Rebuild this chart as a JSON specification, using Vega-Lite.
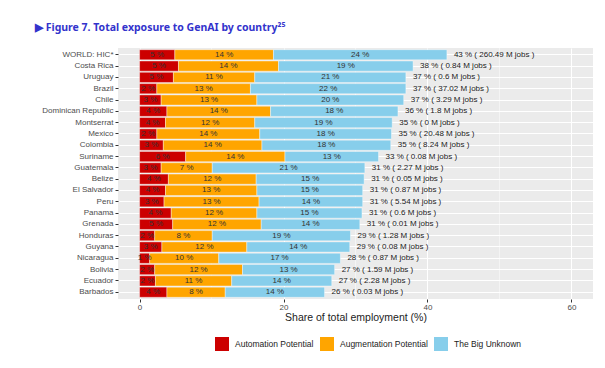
{
  "$schema": "https://vega.github.io/schema/vega-lite/v6.json",
  "width": 475,
  "height": 251,
  "autosize": "none",
  "padding": {"left": 118, "top": 48, "right": 12, "bottom": 69},
  "background": "white",
  "title": {
    "text": "▶  Figure 7. Total exposure to GenAI by country²⁵",
    "anchor": "start",
    "frame": "group",
    "dx": -83,
    "offset": 14,
    "font": "Noto Sans",
    "fontSize": 10.5,
    "fontWeight": "bold",
    "color": "#3333CC"
  },
  "config": {
    "view": {"stroke": null, "fill": "#EBEBEB"},
    "font": "Liberation Sans",
    "axis": {
      "gridColor": "white",
      "domain": false,
      "labelColor": "#4D4D4D",
      "tickColor": "#333333",
      "labelFont": "Liberation Sans",
      "titleFont": "Liberation Sans"
    }
  },
  "data": {
    "values": [
      {"country": "WORLD: HIC*", "Automation Potential": 4.9, "Augmentation Potential": 13.7, "The Big Unknown": 24.1, "jobs": 260.49},
      {"country": "Costa Rica", "Automation Potential": 5.4, "Augmentation Potential": 13.9, "The Big Unknown": 18.7, "jobs": 0.84},
      {"country": "Uruguay", "Automation Potential": 4.7, "Augmentation Potential": 11.3, "The Big Unknown": 21.0, "jobs": 0.6},
      {"country": "Brazil", "Automation Potential": 2.4, "Augmentation Potential": 13.0, "The Big Unknown": 21.6, "jobs": 37.02},
      {"country": "Chile", "Automation Potential": 3.0, "Augmentation Potential": 13.3, "The Big Unknown": 20.4, "jobs": 3.29},
      {"country": "Dominican Republic", "Automation Potential": 3.8, "Augmentation Potential": 14.4, "The Big Unknown": 17.7, "jobs": 1.8},
      {"country": "Montserrat", "Automation Potential": 3.6, "Augmentation Potential": 12.4, "The Big Unknown": 19.1, "jobs": 0},
      {"country": "Mexico", "Automation Potential": 2.4, "Augmentation Potential": 14.3, "The Big Unknown": 18.3, "jobs": 20.48},
      {"country": "Colombia", "Automation Potential": 3.3, "Augmentation Potential": 13.7, "The Big Unknown": 17.9, "jobs": 8.24},
      {"country": "Suriname", "Automation Potential": 6.4, "Augmentation Potential": 13.8, "The Big Unknown": 13.0, "jobs": 0.08},
      {"country": "Guatemala", "Automation Potential": 3.0, "Augmentation Potential": 7.1, "The Big Unknown": 21.2, "jobs": 2.27},
      {"country": "Belize", "Automation Potential": 4.0, "Augmentation Potential": 12.2, "The Big Unknown": 15.0, "jobs": 0.05},
      {"country": "El Salvador", "Automation Potential": 3.6, "Augmentation Potential": 12.7, "The Big Unknown": 14.7, "jobs": 0.87},
      {"country": "Peru", "Automation Potential": 3.4, "Augmentation Potential": 13.2, "The Big Unknown": 14.4, "jobs": 5.54},
      {"country": "Panama", "Automation Potential": 4.4, "Augmentation Potential": 11.9, "The Big Unknown": 14.6, "jobs": 0.6},
      {"country": "Grenada", "Automation Potential": 4.6, "Augmentation Potential": 12.3, "The Big Unknown": 13.7, "jobs": 0.01},
      {"country": "Honduras", "Automation Potential": 2.1, "Augmentation Potential": 8.0, "The Big Unknown": 19.2, "jobs": 1.28},
      {"country": "Guyana", "Automation Potential": 3.1, "Augmentation Potential": 11.8, "The Big Unknown": 14.3, "jobs": 0.08},
      {"country": "Nicaragua", "Automation Potential": 1.4, "Augmentation Potential": 9.6, "The Big Unknown": 16.9, "jobs": 0.87},
      {"country": "Bolivia", "Automation Potential": 2.1, "Augmentation Potential": 12.2, "The Big Unknown": 12.8, "jobs": 1.59},
      {"country": "Ecuador", "Automation Potential": 2.2, "Augmentation Potential": 10.6, "The Big Unknown": 13.9, "jobs": 2.28},
      {"country": "Barbados", "Automation Potential": 3.8, "Augmentation Potential": 8.1, "The Big Unknown": 13.8, "jobs": 0.03}
    ]
  },
  "transform": [
    {"calculate": "datum['Automation Potential'] + datum['Augmentation Potential'] + datum['The Big Unknown']", "as": "total"},
    {"fold": ["Automation Potential", "Augmentation Potential", "The Big Unknown"], "as": ["category", "value"]},
    {"calculate": "indexof(['Automation Potential','Augmentation Potential','The Big Unknown'], datum.category)", "as": "ord"},
    {"stack": "value", "groupby": ["country"], "sort": [{"field": "ord", "order": "ascending"}], "as": ["x0", "x1"]},
    {"calculate": "(datum.x0 + datum.x1) / 2", "as": "xmid"},
    {"calculate": "round(datum.value) + ' %'", "as": "seglabel"},
    {"calculate": "round(datum.total) + ' % ( ' + datum.jobs + ' M jobs )'", "as": "totlabel"}
  ],
  "encoding": {
    "y": {
      "field": "country",
      "type": "nominal",
      "sort": null,
      "scale": {"paddingInner": 0.1, "paddingOuter": 0.15},
      "axis": {
        "title": null,
        "bandPosition": 0.5,
        "grid": true,
        "gridWidth": 1,
        "labelFontSize": 8,
        "labelPadding": 2,
        "tickSize": 3,
        "tickWidth": 1
      }
    }
  },
  "layer": [
    {
      "mark": {"type": "rule", "color": "white", "strokeWidth": 0.5},
      "data": {"values": [{"v": 10}, {"v": 30}, {"v": 50}]},
      "transform": [],
      "encoding": {
        "x": {"field": "v", "type": "quantitative", "scale": {"domain": [-3, 63]}},
        "y": null
      }
    },
    {
      "mark": {"type": "bar", "stroke": "white", "strokeWidth": 0.4},
      "encoding": {
        "x": {
          "field": "x0",
          "type": "quantitative",
          "scale": {"domain": [-3, 63], "nice": false, "zero": false},
          "axis": {
            "title": "Share of total employment (%)",
            "values": [0, 20, 40, 60],
            "grid": true,
            "gridWidth": 1,
            "labelFontSize": 8,
            "labelPadding": 1,
            "tickSize": 3,
            "titleFontSize": 10.5,
            "titleFontWeight": "normal",
            "titleColor": "#222222",
            "titlePadding": 1
          }
        },
        "x2": {"field": "x1"},
        "color": {
          "field": "category",
          "type": "nominal",
          "sort": ["Automation Potential", "Augmentation Potential", "The Big Unknown"],
          "scale": {
            "domain": ["Automation Potential", "Augmentation Potential", "The Big Unknown"],
            "range": ["#CC0000", "#FFA500", "#87CEEB"]
          },
          "legend": {
            "title": null,
            "orient": "none",
            "direction": "horizontal",
            "legendX": 97,
            "legendY": 289,
            "padding": 0,
            "symbolType": "square",
            "symbolSize": 196,
            "symbolStrokeWidth": 0,
            "symbolOpacity": 1,
            "labelFontSize": 8.5,
            "labelColor": "#222222",
            "labelOffset": 6,
            "columnPadding": 6
          }
        }
      }
    },
    {
      "mark": {"type": "text", "fontSize": 8, "color": "#333333", "baseline": "middle"},
      "encoding": {
        "x": {"field": "xmid", "type": "quantitative"},
        "text": {"field": "seglabel"}
      }
    },
    {
      "transform": [{"filter": "datum.category == 'The Big Unknown'"}],
      "mark": {"type": "text", "fontSize": 8, "color": "#222222", "align": "left", "baseline": "middle", "dx": 7},
      "encoding": {
        "x": {"field": "x1", "type": "quantitative"},
        "text": {"field": "totlabel"}
      }
    }
  ]
}
